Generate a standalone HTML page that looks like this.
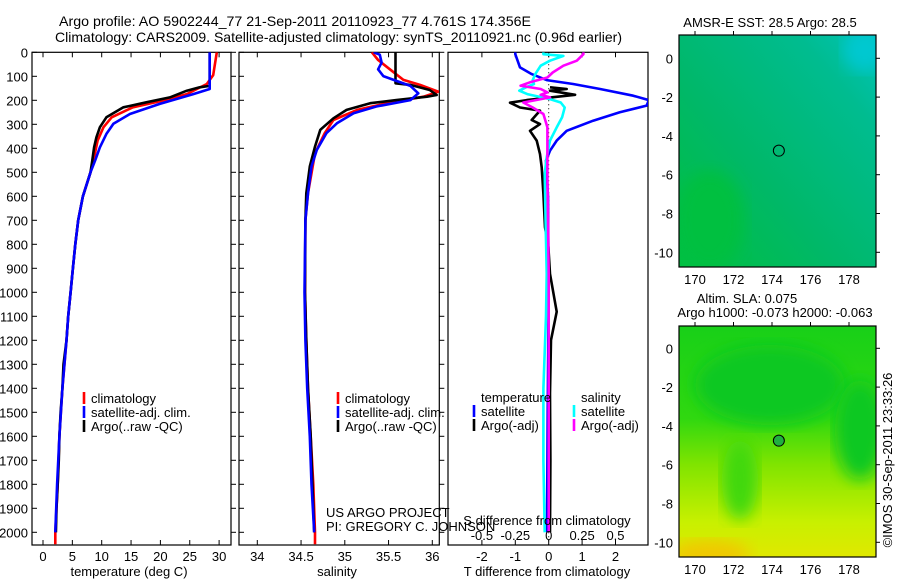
<!DOCTYPE html>
<html><head><meta charset="utf-8">
<style>
html,body{margin:0;padding:0;background:#fff;}
svg{display:block;font-family:"Liberation Sans",sans-serif;}
text{fill:#000;}
</style></head>
<body>
<svg id="chart" width="900" height="580" viewBox="0 0 900 580" xmlns="http://www.w3.org/2000/svg">
<defs>
<linearGradient id="sstg" x1="0" y1="1" x2="1" y2="0">
<stop offset="0" stop-color="#00c040"/><stop offset="0.4" stop-color="#00b868"/><stop offset="0.8" stop-color="#00bc90"/><stop offset="1" stop-color="#00c4b8"/></linearGradient>
<linearGradient id="slag" x1="0" y1="0" x2="0" y2="1">
<stop offset="0" stop-color="#18d018"/><stop offset="0.4" stop-color="#30d810"/><stop offset="0.6" stop-color="#80e400"/><stop offset="0.85" stop-color="#c8f000"/><stop offset="1" stop-color="#e0e800"/></linearGradient>
<filter id="blur"><feGaussianBlur stdDeviation="8"/></filter>
<clipPath id="c1"><rect x="32" y="52.3" width="199" height="493"/></clipPath>
<clipPath id="c2"><rect x="239" y="52.3" width="200" height="493"/></clipPath>
<clipPath id="c3"><rect x="448" y="52.3" width="200" height="493"/></clipPath>
<clipPath id="cm1"><rect x="679" y="35" width="197" height="232"/></clipPath>
<clipPath id="cm2"><rect x="679" y="326" width="197" height="231"/></clipPath>
</defs>
<text x="59" y="26" font-size="14" textLength="472" lengthAdjust="spacingAndGlyphs">Argo profile: AO 5902244_77 21-Sep-2011 20110923_77 4.761S 174.356E</text>
<text x="55" y="42" font-size="14" textLength="567" lengthAdjust="spacingAndGlyphs">Climatology: CARS2009. Satellite-adjusted climatology: synTS_20110921.nc (0.96d earlier)</text>
<g id="g"></g>
</svg>
<script>
// ---- data ----
const depthTicks=[0,100,200,300,400,500,600,700,800,900,1000,1100,1200,1300,1400,1500,1600,1700,1800,1900,2000];
const tempTicks=[0,5,10,15,20,25,30];
const salTicks=[34,34.5,35,35.5,36];
const salTickLabels=["34","34.5","35","35.5","36"];
const tdTicks=[-2,-1,0,1,2];
const sdTicks=[-0.5,-0.25,0,0.25,0.5];
const sdTickLabels=["-0.5","-0.25","0","0.25","0.5"];
const lonTicks=[170,172,174,176,178];
const latTicks=[0,-2,-4,-6,-8,-10];

const tArgoDepth=[0,140,146,160,188,208,229,271,312,354,396,450,500,600,700,800,900,1000,1100,1200,1300,1400,1500,1600,1700,1800,1900,2000];
const tArgo=[28.4,28.4,26.7,24.5,21.6,17.7,13.7,10.8,9.7,9.1,8.7,8.4,8.1,6.8,6.0,5.5,5.1,4.7,4.3,4.0,3.5,3.3,3.0,2.8,2.7,2.5,2.3,2.2];
const tClimDepth=[0,95,132,174,201,229,271,312,368,450,500,600,700,800,900,1000,1100,1200,1400,1600,1800,2000,2050];
const tClim=[29.6,29.0,27.9,24.5,20.5,15.3,11.7,10.3,9.3,8.6,8.1,6.8,6.0,5.5,5.1,4.7,4.3,4.0,3.3,2.8,2.5,2.1,2.1];
const tSatDepth=[0,153,174,215,257,298,340,396,450,500,600,700,800,900,1000,1100,1200,1400,1600,1800,2000];
const tSat=[28.4,28.4,25.6,19.9,14.8,12.0,10.8,9.7,8.9,8.1,6.8,6.0,5.5,5.1,4.7,4.3,4.0,3.3,2.8,2.4,2.1];

const sArgoDepth=[0,129,136,157,178,185,199,212,240,275,323,393,476,587,700,1000,1200,1400,1600,1800,2000];
const sArgo=[35.58,35.58,35.75,35.97,36.05,35.94,35.59,35.29,35.02,34.87,34.72,34.66,34.60,34.56,34.55,34.545,34.56,34.58,34.61,34.63,34.65];
const sClimDepth=[0,32,81,115,136,164,185,212,240,282,337,421,587,700,1000,1200,1400,1600,1800,2000,2050];
const sClim=[35.31,35.38,35.55,35.67,35.86,36.07,35.9,35.48,35.14,34.87,34.77,34.66,34.58,34.55,34.545,34.56,34.58,34.61,34.64,34.66,34.66];
const sSatDepth=[0,10,43,71,99,119,140,171,199,226,254,296,337,407,476,587,700,1000,1200,1400,1600,1800,2000];
const sSat=[35.33,35.40,35.42,35.38,35.44,35.59,35.75,35.84,35.75,35.36,35.10,34.91,34.79,34.68,34.62,34.58,34.55,34.54,34.55,34.57,34.60,34.62,34.65];

const dTSatDepth=[0,8,63,91,116,132,153,181,199,222,250,285,327,368,410,451,600,1000,1500,2000];
const dTSat=[-1.0,-1.0,-0.86,-0.51,-0.06,0.73,1.54,2.53,3.0,2.93,2.13,1.33,0.54,0.24,0.04,-0.08,-0.02,0.0,-0.03,-0.05];
const dTArgoDepth=[146,153,160,177,199,210,230,243,282,299,327,368,424,479,590,729,812,923,1081,1199,1421,1700,2000];
const dTArgo=[0.04,0.54,0.04,0.79,-0.66,-1.16,-0.86,-0.26,-0.51,-0.26,-0.56,-0.36,-0.26,-0.21,-0.16,-0.11,-0.01,0.04,0.24,0.07,0.04,0.05,0.04];
const dSSatDepth=[0,8,15,35,56,91,116,132,146,160,174,195,209,230,271,313,368,437,507,784,923,1100,1400,1700,2000];
const dSSat=[-0.04,-0.04,0.11,0.01,-0.06,-0.10,-0.12,-0.11,-0.17,-0.22,-0.16,0.01,0.09,0.12,0.10,0.06,0.01,-0.015,-0.03,-0.02,-0.015,-0.02,-0.04,-0.04,-0.03];
const dSArgoDepth=[0,8,35,56,84,105,125,139,153,167,177,188,209,230,257,313,507,923,1500,2000];
const dSArgo=[0.26,0.26,0.21,0.11,0.03,-0.01,-0.14,-0.21,-0.06,-0.01,-0.06,0.01,-0.19,-0.12,-0.04,-0.01,-0.01,0.0,0.0,0.0];

// ---- scales ----
const yD=d=>52.3+d*0.24;
const xT=t=>43+t*5.87;
const xS=s=>257.3+(s-34)*87.5;
const xDT=t=>548.7+t*33.4;
const xDS=s=>548.7+s*133.6;
const xLon=l=>695+(l-170)*19.25;
const yLat1=l=>58.3-l*19.4;
const yLat2=l=>348.3-l*19.4;

const NS='http://www.w3.org/2000/svg';
const G=document.getElementById('g');
function mk(tag,attrs,parent){const e=document.createElementNS(NS,tag);for(const k in attrs)e.setAttribute(k,attrs[k]);(parent||G).appendChild(e);return e;}
function txt(s,x,y,size,anchor,parent){const e=mk('text',{x:x,y:y,'font-size':size,'text-anchor':anchor||'start'},parent);e.textContent=s;return e;}

function line(depths,vals,xf,color,name,clip,w){
  const pts=depths.map((d,i)=>xf(vals[i]).toFixed(1)+','+yD(d).toFixed(1)).join(' ');
  const e=mk('polyline',{points:pts,fill:'none',stroke:color,'stroke-width':w||2.6,'clip-path':'url(#'+clip+')','stroke-linejoin':'round'});
  
  
}
function box(x,y,w,h,name){const e=mk('rect',{x:x,y:y,width:w,height:h,fill:'none',stroke:'#000','stroke-width':1.2});
  
  }
function xTicks(vals,xf,x0,x1,top,bot){vals.forEach(v=>{const x=xf(v);mk('line',{x1:x,y1:top,x2:x,y2:top+5,stroke:'#000'});mk('line',{x1:x,y1:bot,x2:x,y2:bot-5,stroke:'#000'});});}
function yTicks(x0,x1){depthTicks.forEach(d=>{const y=yD(d);mk('line',{x1:x0,y1:y,x2:x0+5,y2:y,stroke:'#000'});mk('line',{x1:x1,y1:y,x2:x1+5,y2:y,stroke:'#000'});});}

const TOP=52.3,BOT=545;
// panel 1
box(32,TOP,199,BOT-TOP,'temperature-panel');
xTicks(tempTicks,xT,32,231,TOP,BOT);yTicks(32,231);
depthTicks.forEach(d=>{const e=txt(String(d),28,yD(d)+5,13,'end');});
tempTicks.forEach(t=>{const e=txt(String(t),xT(t),561,13,'middle');});
let e=txt('temperature (deg C)',129,576,13,'middle');
line(tClimDepth,tClim,xT,'#ff0000','temperature-climatology-line','c1');
line(tArgoDepth,tArgo,xT,'#000000','temperature-argo-line','c1');
line(tSatDepth,tSat,xT,'#0000ff','temperature-satellite-line','c1');

// panel 2
box(239,TOP,200.3,BOT-TOP,'salinity-panel');
xTicks(salTicks,xS,239,439,TOP,BOT);yTicks(239,439.3);
salTicks.forEach((s,i)=>{const e=txt(salTickLabels[i],xS(s),561,13,'middle');});
e=txt('salinity',337,576,13,'middle');
line(sClimDepth,sClim,xS,'#ff0000','salinity-climatology-line','c2');
line(sArgoDepth,sArgo,xS,'#000000','salinity-argo-line','c2');
line(sSatDepth,sSat,xS,'#0000ff','salinity-satellite-line','c2');

// panel 3
box(448,TOP,200,BOT-TOP,'difference-panel');
xTicks(tdTicks,xDT,448,648,TOP,BOT);
mk('line',{x1:xDT(0),y1:TOP,x2:xDT(0),y2:BOT,stroke:'#000','stroke-dasharray':'1,3'});
line(dTSatDepth,dTSat,xDT,'#0000ff','t-diff-satellite-line','c3');
line(dTArgoDepth,dTArgo,xDT,'#000000','t-diff-argo-line','c3');
line(dSSatDepth,dSSat,xDS,'#00ffff','s-diff-satellite-line','c3');
line(dSArgoDepth,dSArgo,xDS,'#ff00ff','s-diff-argo-line','c3');
tdTicks.forEach(t=>{const e=txt(String(t),xDT(t),561,13,'middle');});
sdTicks.forEach((s,i)=>{const e=txt(sdTickLabels[i],xDS(s),540,13,'middle');});
e=txt('S difference from climatology',547,525,13,'middle');
e=txt('T difference from climatology',547,576,13,'middle');

// legends
function leg(x,y,color,label,name){mk('rect',{x:x-1.3,y:y-11,width:2.6,height:12,fill:color});const e=txt(label,x+7,y,13,'start');}
leg(84,403,'#ff0000','climatology','legend-climatology');
leg(84,417,'#0000ff','satellite-adj. clim.','legend-satellite-adj');
leg(84,431,'#000000','Argo(..raw -QC)','legend-argo');
leg(338,403,'#ff0000','climatology','legend2-climatology');
leg(338,417,'#0000ff','satellite-adj. clim.','legend2-satellite-adj');
leg(338,431,'#000000','Argo(..raw -QC)','legend2-argo');
e=txt('temperature',481,402,13);
e=txt('salinity',581,402,13);
leg(474,416,'#0000ff','satellite','legend-t-satellite');
leg(474,430,'#000000','Argo(-adj)','legend-t-argo');
leg(574,416,'#00ffff','satellite','legend-s-satellite');
leg(574,430,'#ff00ff','Argo(-adj)','legend-s-argo');
e=txt('US ARGO PROJECT',326,517,13);
e=txt('PI: GREGORY C. JOHNSON',326,531,13);

// maps
function map(top,bot,yLat,fillId,name,extra){
  const r=mk('rect',{x:679,y:top,width:197,height:bot-top,fill:'url(#'+fillId+')'});
  
  
  extra();
  box(679,top,197,bot-top,name+'-frame');
  lonTicks.forEach(l=>{const x=xLon(l);mk('line',{x1:x,y1:top,x2:x,y2:top-4,stroke:'#000'});const e=txt(String(l),x,bot+17,13,'middle');});
  latTicks.forEach(l=>{const y=yLat(l);mk('line',{x1:876,y1:y,x2:880,y2:y,stroke:'#000'});const e=txt(String(l),673,y+5,13,'end');});
  const c=mk('circle',{cx:xLon(174.356),cy:yLat(-4.761),r:5.5,fill:fillId==='slag'?'#20b040':'none',stroke:'#000','stroke-width':1});
  
  
}
map(35,267,yLat1,'sstg','sst-map',()=>{
  mk('ellipse',{cx:710,cy:220,rx:35,ry:50,fill:'#00c040',filter:'url(#blur)','clip-path':'url(#cm1)'});
  mk('ellipse',{cx:865,cy:50,rx:22,ry:22,fill:'#00c8d0',filter:'url(#blur)','clip-path':'url(#cm1)'});
});
map(326,557,yLat2,'slag','sla-map',()=>{
  mk('ellipse',{cx:770,cy:385,rx:75,ry:40,fill:'#10c820',filter:'url(#blur)','clip-path':'url(#cm2)'});
  mk('ellipse',{cx:740,cy:480,rx:18,ry:40,fill:'#40d810',filter:'url(#blur)','clip-path':'url(#cm2)'});
  mk('ellipse',{cx:860,cy:430,rx:25,ry:50,fill:'#10c820',filter:'url(#blur)','clip-path':'url(#cm2)'});
  mk('ellipse',{cx:710,cy:555,rx:40,ry:15,fill:'#f0c800',filter:'url(#blur)','clip-path':'url(#cm2)'});
});
e=txt('AMSR-E SST: 28.5 Argo: 28.5',770,27,13,'middle');
e=txt('Altim. SLA: 0.075',747,303,13,'middle');
e=txt('Argo h1000: -0.073 h2000: -0.063',775,317,13,'middle');
e=txt('©IMOS 30-Sep-2011 23:33:26',0,0,13,'middle');
e.setAttribute('transform','translate(892,460) rotate(-90)');


</script>
</body></html>
